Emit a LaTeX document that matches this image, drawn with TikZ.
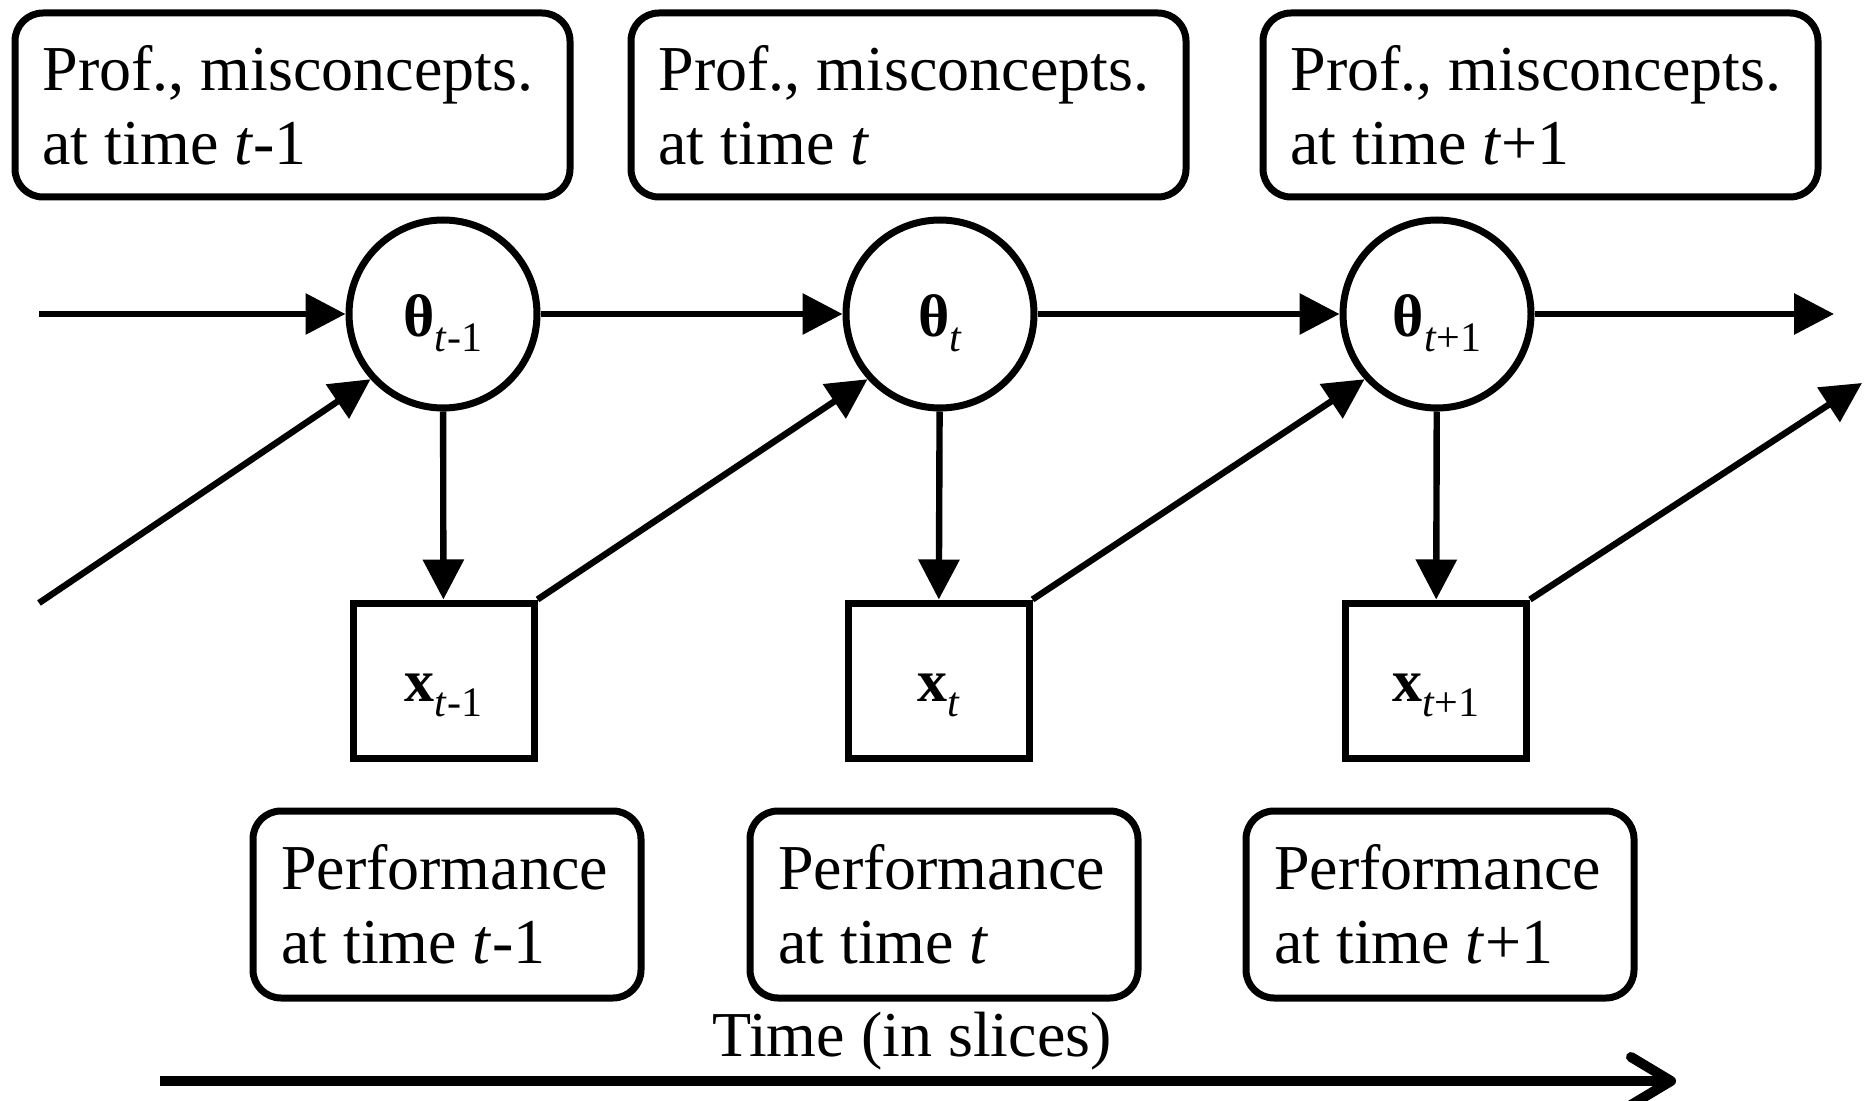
\documentclass[tikz,border=0pt]{standalone}
\usepackage{fontspec}
\setmainfont{Liberation Serif}
\usetikzlibrary{arrows.meta}
\newcommand{\symlab}[2]{{\fontsize{30}{30}\selectfont\bfseries #1}\lower7.5pt\hbox{\fontsize{21}{21}\selectfont #2}}
\begin{document}
\begin{tikzpicture}[x=0.5pt,y=-0.5pt,
  infobox/.style={draw, line width=3.5pt, rounded corners=14pt, align=left,
    font=\fontsize{32}{37}\selectfont, inner ysep=0pt,
    execute at begin node={\spaceskip=0pt\xspaceskip=0pt\relax}},
  topbox/.style={infobox, minimum width=277.5pt, minimum height=92pt,
    inner xsep=13.75pt, text width=250pt},
  botbox/.style={infobox, minimum width=194pt, minimum height=93.5pt,
    inner xsep=14pt, text width=166pt},
  statenode/.style={circle, draw, line width=3.5pt, minimum size=94pt,
    inner sep=0pt, text height=22.6pt, text depth=0pt},
  obsnode/.style={rectangle, draw, line width=3.5pt, minimum width=90.5pt,
    minimum height=77.5pt, inner sep=0pt, text height=21.4pt, text depth=0pt},
  arr/.style={line width=3.2pt, -{Triangle[length=20pt,width=20pt]}},
  timearr/.style={line width=5pt, -{Straight Barb[length=20pt,width=24pt,line cap=round,line join=round]}}
]
\useasboundingbox (0,0) rectangle (1864,1101);

% top boxes
\node[topbox] (p1) at (292.5,105) {Prof., misconcepts.\\at time \textit{t}-1};
\node[topbox] (p2) at (908.5,105) {Prof., misconcepts.\\at time \textit{t}};
\node[topbox] (p3) at (1540.5,105) {Prof., misconcepts.\\at time \textit{t}+1};

% state nodes
\node[statenode] (th1) at (443,314) {\symlab{θ}{\textit{t}-1}};
\node[statenode] (th2) at (940,314) {\symlab{θ}{\textit{t}}};
\node[statenode] (th3) at (1437,314) {\symlab{θ}{\textit{t}+1}};

% observation nodes
\node[obsnode] (x1) at (443.5,680.5) {\symlab{x}{\textit{t}-1}};
\node[obsnode] (x2) at (938.5,680.5) {\symlab{x}{\textit{t}}};
\node[obsnode] (x3) at (1436,680.5) {\symlab{x}{\textit{t}+1}};

% bottom boxes
\node[botbox] (q1) at (447,904.5) {Performance\\at time \textit{t}-1};
\node[botbox] (q2) at (944,904.5) {Performance\\at time \textit{t}};
\node[botbox] (q3) at (1440,904.5) {Performance\\at time \textit{t}+1};

% free ends
\coordinate (s0) at (39,314);
\coordinate (e0) at (1834,314);
\coordinate (d0) at (39,603);
\coordinate (d3) at (1862,383);

% horizontal chain
\draw[arr] (s0) -- (th1);
\draw[arr] (th1) -- (th2);
\draw[arr] (th2) -- (th3);
\draw[arr] (th3) -- (e0);

% emissions
\draw[arr] (th1) -- (x1);
\draw[arr] (th2) -- (x2);
\draw[arr] (th3) -- (x3);

% diagonals
\draw[arr] (d0) -- (th1.222);
\draw[arr] (x1.north east) -- (th2.222);
\draw[arr] (x2.north east) -- (th3.222);
\draw[arr] (x3.north east) -- (d3);

% time axis
\coordinate (ta) at (160,1081);
\coordinate (tb) at (1676,1081);
\draw[timearr] (ta) -- (tb);
\node[font=\fontsize{32}{37}\selectfont, anchor=base] (tl) at (912,1056) {Time (in slices)};
\end{tikzpicture}
\end{document}
